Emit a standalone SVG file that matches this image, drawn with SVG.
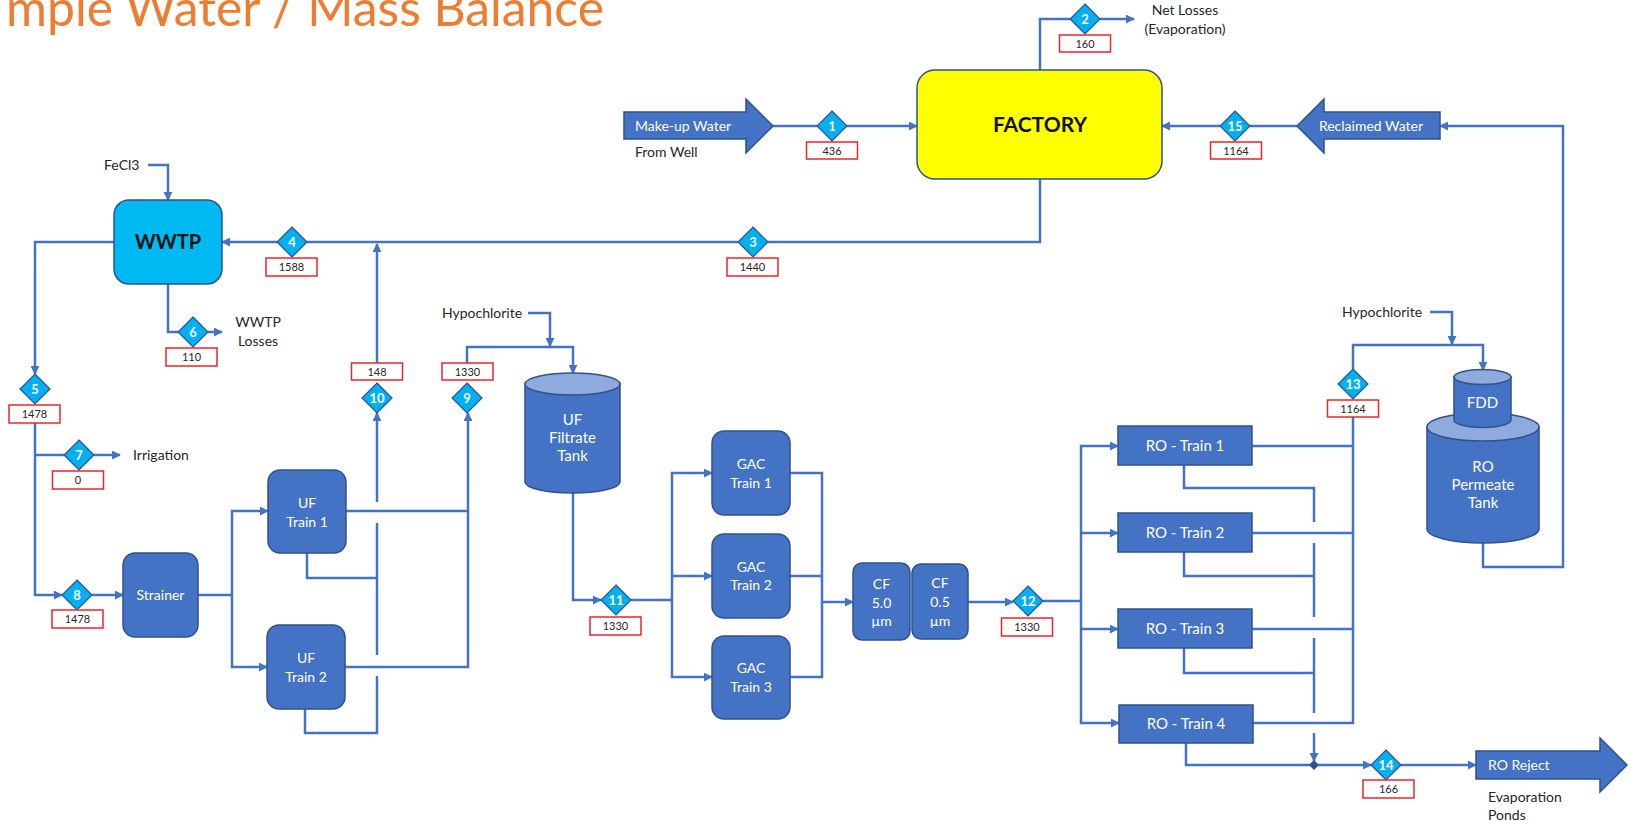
<svg xmlns="http://www.w3.org/2000/svg" xmlns:xlink="http://www.w3.org/1999/xlink" width="1631" height="825" viewBox="0 0 1631 825">
  <style>
    text { font-family: Lato, "Liberation Sans", sans-serif; }
    .ln { fill: none; stroke: #4472C4; stroke-width: 2.5; }
    .ar { marker-end: url(#ah); }
    .nd { fill: #4472C4; stroke: #2F528F; stroke-width: 1.5; }
    .top { fill: #8FAADC; stroke: #2F528F; stroke-width: 1.5; }
    .dm { fill: #00B0F0; stroke: #2F528F; stroke-width: 1.2; }
    .bx { fill: #FFFFFF; stroke: #E8262B; stroke-width: 1.5; }
    .wt { fill: #FFFFFF; font-size: 14px; text-anchor: middle; }
    .num { fill: #FFFFFF; font-size: 13px; font-weight: bold; text-anchor: middle; }
    .val { fill: #262626; font-size: 11px; text-anchor: middle; }
    .lbl { fill: #262626; font-size: 14px; }
  </style>
  <defs>
    <marker id="ah" viewBox="0 0 10 10" refX="9" refY="5" markerWidth="9" markerHeight="9" markerUnits="userSpaceOnUse" orient="auto">
      <path d="M0,0 L10,5 L0,10 z" fill="#4472C4"/>
    </marker>
    <polygon id="dia" class="dm" points="0,-15 15,0 0,15 -15,0"/>
  </defs>

  <rect width="1631" height="825" fill="#FFFFFF"/>

  <!-- heading -->
  <text x="6" y="26" font-size="50" fill="#ED7D31" textLength="598" lengthAdjust="spacingAndGlyphs">mple Water / Mass Balance</text>

  <!-- flow lines -->
  <g id="connectors" class="ln">
    <path d="M773,126 H817"/>
    <path class="ar" d="M847,126 H917"/>
    <path d="M1040,70 V19 H1070"/>
    <path class="ar" d="M1100,19 H1134"/>
    <path d="M1297,126 H1250"/>
    <path class="ar" d="M1220,126 H1162"/>
    <path class="ar" d="M1483,543 V567 H1563 V126 H1440"/>
    <path d="M1040,179 V242 H768"/>
    <path d="M738,242 H307"/>
    <path class="ar" d="M277,242 H222"/>
    <path class="ar" d="M148,165 H168 V200"/>
    <path class="ar" d="M114,242 H35 V374"/>
    <path d="M168,284 V332 H178"/>
    <path class="ar" d="M208,332 H222"/>
    <path class="ar" d="M35,423 V595 H62"/>
    <path d="M35,455 H64"/>
    <path class="ar" d="M94,455 H120"/>
    <path class="ar" d="M92,595 H123"/>
    <path d="M198,595 H232"/>
    <path class="ar" d="M232,595 V511 H268"/>
    <path class="ar" d="M232,595 V667 H267"/>
    <path d="M346,511 H468"/>
    <path class="ar" d="M345,667 H468 V413"/>
    <path d="M307,553 V578 H377"/>
    <path d="M305,709 V733 H377 V676"/>
    <path d="M377,655 V523"/>
    <path class="ar" d="M377,502 V413"/>
    <path class="ar" d="M377,363 V244"/>
    <path class="ar" d="M467,363 V347 H573 V373"/>
    <path class="ar" d="M528,313 H550 V346"/>
    <path class="ar" d="M573,493 V600 H601"/>
    <path d="M631,600 H672"/>
    <path class="ar" d="M672,600 V473 H712"/>
    <path class="ar" d="M672,600 V677 H712"/>
    <path class="ar" d="M672,576 H712"/>
    <path d="M790,473 H822 V677 H790"/>
    <path d="M790,576 H822"/>
    <path class="ar" d="M822,602 H853"/>
    <path class="ar" d="M968,602 H1013"/>
    <path d="M1043,601 H1081"/>
    <path class="ar" d="M1081,601 V446 H1118"/>
    <path class="ar" d="M1081,601 V723 H1119"/>
    <path class="ar" d="M1081,533 H1118"/>
    <path class="ar" d="M1081,629 H1118"/>
    <path d="M1252,446 H1353"/>
    <path d="M1252,533 H1353"/>
    <path d="M1252,629 H1353"/>
    <path d="M1253,723 H1353 V417"/>
    <path class="ar" d="M1353,369 V345 H1483 V370"/>
    <path class="ar" d="M1430,312 H1452 V344"/>
    <path d="M1184,465 V488 H1314 V522"/>
    <path d="M1314,543 V617"/>
    <path d="M1184,552 V576 H1314"/>
    <path d="M1314,638 V713"/>
    <path d="M1184,648 V673 H1314"/>
    <path class="ar" d="M1314,733 V761"/>
    <path class="ar" d="M1186,743 V765 H1371"/>
    <path class="ar" d="M1401,765 H1476"/>
    <polygon points="1314,760 1319,765 1314,770 1309,765" fill="#2F528F" stroke="none"/>
  </g>

  <!-- sources and sinks -->
  <g id="makeup-water">
    <path class="nd" stroke-width="1" d="M624,112 H746 V99 L773,126 L746,153 V139 H624 Z"/>
    <text class="wt" x="635" y="131" style="text-anchor:start">Make-up Water</text>
    <text class="lbl" x="635" y="157">From Well</text>
  </g>
  <g id="reclaimed-water">
    <path class="nd" stroke-width="1" d="M1297,126 L1324,99 V112 H1440 V139 H1324 V153 Z"/>
    <text class="wt" x="1371" y="131">Reclaimed Water</text>
  </g>
  <g id="ro-reject">
    <path class="nd" stroke-width="1" d="M1476,751 H1600 V738 L1627,765 L1600,792 V779 H1476 Z"/>
    <text class="wt" x="1488" y="770" style="text-anchor:start">RO Reject</text>
    <text class="lbl" x="1488" y="802">Evaporation</text>
    <text class="lbl" x="1488" y="820">Ponds</text>
  </g>
  <g id="net-losses">
    <text class="lbl" x="1185" y="15" text-anchor="middle">Net Losses</text>
    <text class="lbl" x="1185" y="34" text-anchor="middle">(Evaporation)</text>
  </g>
  <g id="fecl3"><text class="lbl" x="104" y="170">FeCl3</text></g>
  <g id="wwtp-losses">
    <text class="lbl" x="258" y="327" text-anchor="middle">WWTP</text>
    <text class="lbl" x="258" y="346" text-anchor="middle">Losses</text>
  </g>
  <g id="irrigation"><text class="lbl" x="133" y="460">Irrigation</text></g>
  <g id="hypo-uf"><text class="lbl" x="442" y="318">Hypochlorite</text></g>
  <g id="hypo-ro"><text class="lbl" x="1342" y="317">Hypochlorite</text></g>

  <!-- process units -->
  <g id="factory">
    <rect x="917" y="70" width="245" height="109" rx="18" fill="#FFFF00" stroke="#2F528F" stroke-width="1.5"/>
    <text x="1040" y="132" font-size="21" font-weight="bold" fill="#111" text-anchor="middle">FACTORY</text>
  </g>
  <g id="wwtp">
    <rect x="114" y="200" width="108" height="84" rx="15" fill="#00B8F2" stroke="#2F528F" stroke-width="1.5"/>
    <text x="168" y="249" font-size="20" font-weight="bold" fill="#111" text-anchor="middle">WWTP</text>
  </g>
  <g id="strainer">
    <rect class="nd" x="123" y="553" width="75" height="84" rx="12"/>
    <text class="wt" x="160.5" y="600">Strainer</text>
  </g>
  <g id="uf-train-1">
    <rect class="nd" x="268" y="470" width="78" height="83" rx="12"/>
    <text class="wt" x="307" y="508">UF</text>
    <text class="wt" x="307" y="527">Train 1</text>
  </g>
  <g id="uf-train-2">
    <rect class="nd" x="267" y="625" width="78" height="84" rx="12"/>
    <text class="wt" x="306" y="663">UF</text>
    <text class="wt" x="306" y="682">Train 2</text>
  </g>
  <g id="uf-filtrate-tank">
    <path class="nd" d="M525,384 V482 A47.5,11 0 0 0 620,482 V384 Z"/>
    <ellipse class="top" cx="572.5" cy="384" rx="47.5" ry="11"/>
    <text class="wt" x="572.5" y="425" style="font-size:15px">UF</text>
    <text class="wt" x="572.5" y="443" style="font-size:15px">Filtrate</text>
    <text class="wt" x="572.5" y="461" style="font-size:15px">Tank</text>
  </g>
  <g id="gac-train-1">
    <rect class="nd" x="712" y="431" width="78" height="84" rx="12"/>
    <text class="wt" x="751" y="469">GAC</text>
    <text class="wt" x="751" y="488">Train 1</text>
  </g>
  <g id="gac-train-2">
    <rect class="nd" x="712" y="534" width="78" height="84" rx="12"/>
    <text class="wt" x="751" y="572">GAC</text>
    <text class="wt" x="751" y="590">Train 2</text>
  </g>
  <g id="gac-train-3">
    <rect class="nd" x="712" y="636" width="78" height="83" rx="12"/>
    <text class="wt" x="751" y="673">GAC</text>
    <text class="wt" x="751" y="692">Train 3</text>
  </g>
  <g id="cf-5">
    <rect class="nd" x="853" y="563" width="57" height="77" rx="9"/>
    <text class="wt" x="881.5" y="589">CF</text>
    <text class="wt" x="881.5" y="608">5.0</text>
    <text class="wt" x="881.5" y="626">µm</text>
  </g>
  <g id="cf-05">
    <rect class="nd" x="912" y="564" width="56" height="75" rx="9"/>
    <text class="wt" x="940" y="588">CF</text>
    <text class="wt" x="940" y="607">0.5</text>
    <text class="wt" x="940" y="626">µm</text>
  </g>
  <g id="ro-train-1">
    <rect class="nd" x="1118" y="426" width="134" height="39"/>
    <text class="wt" x="1185" y="451" style="font-size:15px">RO - Train 1</text>
  </g>
  <g id="ro-train-2">
    <rect class="nd" x="1118" y="513" width="134" height="39"/>
    <text class="wt" x="1185" y="538" style="font-size:15px">RO - Train 2</text>
  </g>
  <g id="ro-train-3">
    <rect class="nd" x="1118" y="609" width="134" height="39"/>
    <text class="wt" x="1185" y="634" style="font-size:15px">RO - Train 3</text>
  </g>
  <g id="ro-train-4">
    <rect class="nd" x="1119" y="705" width="134" height="38"/>
    <text class="wt" x="1186" y="729" style="font-size:15px">RO - Train 4</text>
  </g>
  <g id="ro-permeate-tank">
    <path class="nd" d="M1427,427 V529 A56,14 0 0 0 1539,529 V427 Z"/>
    <ellipse class="top" cx="1483" cy="427" rx="56" ry="14"/>
    <text class="wt" x="1483" y="472" style="font-size:15px">RO</text>
    <text class="wt" x="1483" y="490" style="font-size:15px">Permeate</text>
    <text class="wt" x="1483" y="508" style="font-size:15px">Tank</text>
  </g>
  <g id="fdd">
    <path class="nd" d="M1454,377 V420 A28.5,7.5 0 0 0 1511,420 V377 Z"/>
    <ellipse class="top" cx="1482.5" cy="377" rx="28.5" ry="7.5"/>
    <text class="wt" x="1482.5" y="408" style="font-size:15px">FDD</text>
  </g>

  <!-- stream tags: numbered diamond with flow value -->
  <g id="s1"><use xlink:href="#dia" x="832" y="126"/><text class="num" x="832" y="130.5">1</text>
    <rect class="bx" x="806.5" y="142" width="51" height="17"/><text class="val" x="832" y="154.5">436</text></g>
  <g id="s2"><use xlink:href="#dia" x="1085" y="19"/><text class="num" x="1085" y="23.5">2</text>
    <rect class="bx" x="1059.5" y="35" width="51" height="17"/><text class="val" x="1085" y="47.5">160</text></g>
  <g id="s3"><use xlink:href="#dia" x="753" y="242"/><text class="num" x="753" y="246.5">3</text>
    <rect class="bx" x="727" y="258" width="51" height="18"/><text class="val" x="752.5" y="271">1440</text></g>
  <g id="s4"><use xlink:href="#dia" x="292" y="242"/><text class="num" x="292" y="246.5">4</text>
    <rect class="bx" x="266" y="258" width="51" height="18"/><text class="val" x="291.5" y="271">1588</text></g>
  <g id="s5"><use xlink:href="#dia" x="35" y="389"/><text class="num" x="35" y="393.5">5</text>
    <rect class="bx" x="9" y="405" width="51" height="18"/><text class="val" x="34.5" y="418">1478</text></g>
  <g id="s6"><use xlink:href="#dia" x="193" y="332"/><text class="num" x="193" y="336.5">6</text>
    <rect class="bx" x="166" y="348" width="51" height="18"/><text class="val" x="191.5" y="361">110</text></g>
  <g id="s7"><use xlink:href="#dia" x="79" y="455"/><text class="num" x="79" y="459.5">7</text>
    <rect class="bx" x="52.5" y="471" width="51" height="18"/><text class="val" x="78" y="484">0</text></g>
  <g id="s8"><use xlink:href="#dia" x="77" y="595"/><text class="num" x="77" y="599.5">8</text>
    <rect class="bx" x="52" y="610" width="51" height="18"/><text class="val" x="77.5" y="623">1478</text></g>
  <g id="s9"><use xlink:href="#dia" x="467" y="398"/><text class="num" x="467" y="402.5">9</text>
    <rect class="bx" x="442" y="363" width="51" height="17"/><text class="val" x="467.5" y="375.5">1330</text></g>
  <g id="s10"><use xlink:href="#dia" x="377" y="398"/><text class="num" x="377" y="402.5">10</text>
    <rect class="bx" x="351.5" y="363" width="51" height="17"/><text class="val" x="377" y="375.5">148</text></g>
  <g id="s11"><use xlink:href="#dia" x="616" y="600"/><text class="num" x="616" y="604.5">11</text>
    <rect class="bx" x="590" y="617" width="51" height="18"/><text class="val" x="615.5" y="630">1330</text></g>
  <g id="s12"><use xlink:href="#dia" x="1028" y="601"/><text class="num" x="1028" y="605.5">12</text>
    <rect class="bx" x="1001.5" y="618" width="51" height="18"/><text class="val" x="1027" y="631">1330</text></g>
  <g id="s13"><use xlink:href="#dia" x="1353" y="384"/><text class="num" x="1353" y="388.5">13</text>
    <rect class="bx" x="1327.5" y="400" width="51" height="17"/><text class="val" x="1353" y="412.5">1164</text></g>
  <g id="s14"><use xlink:href="#dia" x="1386" y="765"/><text class="num" x="1386" y="769.5">14</text>
    <rect class="bx" x="1363" y="780" width="51" height="18"/><text class="val" x="1388.5" y="793">166</text></g>
  <g id="s15"><use xlink:href="#dia" x="1235" y="126"/><text class="num" x="1235" y="130.5">15</text>
    <rect class="bx" x="1210.5" y="142" width="51" height="17"/><text class="val" x="1236" y="154.5">1164</text></g>
</svg>
